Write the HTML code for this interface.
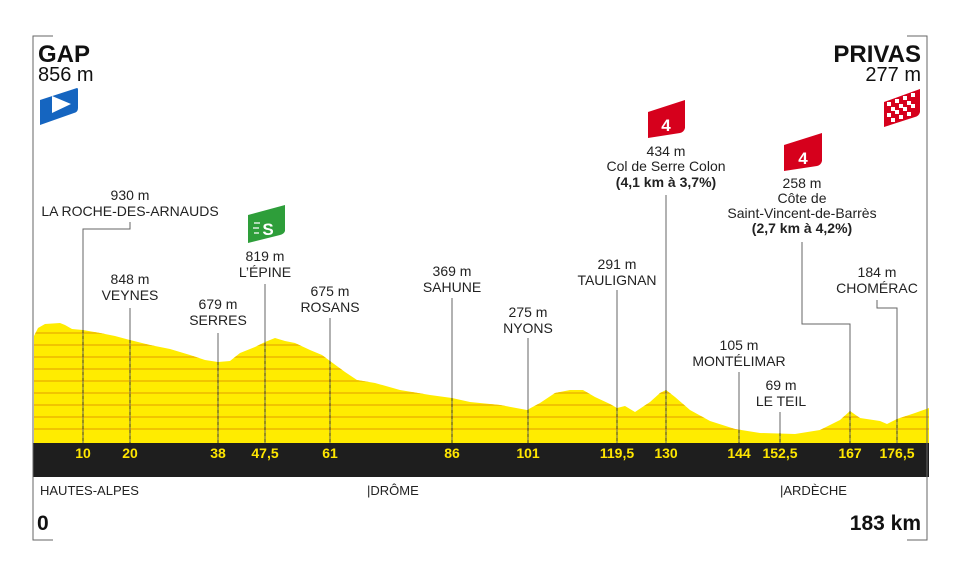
<!DOCTYPE html>
<html><head><meta charset="utf-8"><style>
html,body{margin:0;padding:0;background:#fff;}
svg{display:block;font-family:"Liberation Sans",sans-serif;}
.l{font-size:14px;fill:#222;text-anchor:middle;}
.b{font-weight:bold;}
.k{font-size:14px;font-weight:bold;fill:#ffe600;text-anchor:middle;}
.ln{stroke:#666;stroke-width:1;fill:none;}
.dl{stroke:#333;stroke-width:1;stroke-dasharray:3,3;}
</style></head><body>
<svg width="960" height="579" viewBox="0 0 960 579" xmlns="http://www.w3.org/2000/svg">
<defs><clipPath id="cp"><path id="prof" d="M34,336 L38,328 L45,324 L60,323 L65,325 L72,329 L83,330 L100,333 L115,336 L130,340 L150,345 L170,349 L190,355 L205,360 L218,362 L230,361 L240,353 L255,347 L265,342 L275,338 L285,341 L295,343 L310,350 L322,355 L330,361 L345,372 L357,380 L375,383 L400,390 L430,395 L452,398 L470,402 L500,405 L527,410 L540,403 L555,393 L570,390 L583,390 L595,397 L610,404 L617,408 L625,406 L635,412 L650,402 L660,393 L666,390 L675,397 L690,410 L710,421 L735,429 L760,433 L795,434 L820,430 L840,420 L850,411 L860,418 L880,421 L887,424 L897,419 L915,413 L929,408 L929,443 L34,443 Z"/></clipPath></defs>
<use href="#prof" fill="#ffec00"/>
<g clip-path="url(#cp)" stroke="#f1c400" stroke-width="2">
<line x1="34" y1="333" x2="929" y2="333"/><line x1="34" y1="345" x2="929" y2="345"/><line x1="34" y1="357" x2="929" y2="357"/><line x1="34" y1="369" x2="929" y2="369"/><line x1="34" y1="381" x2="929" y2="381"/><line x1="34" y1="393" x2="929" y2="393"/><line x1="34" y1="405" x2="929" y2="405"/><line x1="34" y1="417" x2="929" y2="417"/><line x1="34" y1="429" x2="929" y2="429"/>
</g>
<rect x="33" y="443" width="896" height="34" fill="#1e1e1e"/>
<path d="M53,36 H33 V540 H53" class="ln" stroke="#888"/>
<path d="M907,36 H927 V540 H907" class="ln" stroke="#888"/>
<text x="38" y="62" font-size="24" font-weight="bold" fill="#111">GAP</text>
<text x="38" y="81" font-size="20" fill="#111">856 m</text>
<path d="M40,100 L77,88 Q78,88 78,90 L78,108 Q78,112 74,113 L40,125 Z" fill="#1565c0"/>
<path d="M52,96 L71,104 L52,113 Z" fill="#fff"/>
<text x="921" y="62" font-size="24" font-weight="bold" fill="#111" text-anchor="end">PRIVAS</text>
<text x="921" y="81" font-size="20" fill="#111" text-anchor="end">277 m</text>
<path d="M884,102 L920,89 L920,112 Q919,116 915,117 L884,127 Z" fill="#d6001c"/>
<g fill="#fff"><rect x="887" y="102" width="4" height="4"/><rect x="895" y="99" width="4" height="4"/><rect x="903" y="96" width="4" height="4"/><rect x="911" y="93" width="4" height="4"/><rect x="891" y="107" width="4" height="4"/><rect x="899" y="104" width="4" height="4"/><rect x="907" y="101" width="4" height="4"/><rect x="887" y="113" width="4" height="4"/><rect x="895" y="110" width="4" height="4"/><rect x="903" y="107" width="4" height="4"/><rect x="911" y="104" width="4" height="4"/><rect x="891" y="118" width="4" height="4"/><rect x="899" y="115" width="4" height="4"/><rect x="907" y="112" width="4" height="4"/></g>
<path d="M248,215 L285,205 L285,231 Q284,234 280,235 L248,243 Z" fill="#2e9e3a"/>
<text x="268" y="235" font-size="17" font-weight="bold" fill="#fff" text-anchor="middle">S</text>
<path d="M254,223 h6 M253,228 h6 M254,233 h5" stroke="#fff" stroke-width="1.3"/>
<path d="M648,112 L685,100 L685,128 Q684,132 680,133 L648,138 Z" fill="#d6001c"/>
<text x="666" y="131" font-size="17" font-weight="bold" fill="#fff" text-anchor="middle">4</text>
<path d="M784,145 L822,133 L822,161 Q821,165 817,166 L784,171 Z" fill="#d6001c"/>
<text x="803" y="164" font-size="17" font-weight="bold" fill="#fff" text-anchor="middle">4</text>
<path d="M130,222 V229 H83 V443" class="ln"/>
<line x1="130" y1="308" x2="130" y2="443" class="ln"/>
<line x1="218" y1="333" x2="218" y2="443" class="ln"/>
<line x1="265" y1="284" x2="265" y2="443" class="ln"/>
<line x1="330" y1="318" x2="330" y2="443" class="ln"/>
<line x1="452" y1="298" x2="452" y2="443" class="ln"/>
<line x1="528" y1="338" x2="528" y2="443" class="ln"/>
<line x1="617" y1="290" x2="617" y2="443" class="ln"/>
<line x1="666" y1="195" x2="666" y2="443" class="ln"/>
<line x1="739" y1="372" x2="739" y2="443" class="ln"/>
<line x1="780" y1="412" x2="780" y2="443" class="ln"/>
<path d="M802,242 V324 H850 V443" class="ln"/>
<path d="M877,300 V308 H897 V443" class="ln"/>
<g class="dl"><line x1="83" y1="330" x2="83" y2="443"/><line x1="130" y1="340" x2="130" y2="443"/><line x1="218" y1="362" x2="218" y2="443"/><line x1="265" y1="343" x2="265" y2="443"/><line x1="330" y1="361" x2="330" y2="443"/><line x1="452" y1="398" x2="452" y2="443"/><line x1="528" y1="410" x2="528" y2="443"/><line x1="617" y1="408" x2="617" y2="443"/><line x1="666" y1="390" x2="666" y2="443"/><line x1="739" y1="430" x2="739" y2="443"/><line x1="780" y1="433" x2="780" y2="443"/><line x1="850" y1="411" x2="850" y2="443"/><line x1="897" y1="419" x2="897" y2="443"/></g>
<text class="l" x="130" y="200">930 m</text><text class="l" x="130" y="216">LA ROCHE-DES-ARNAUDS</text>
<text class="l" x="130" y="284">848 m</text><text class="l" x="130" y="300">VEYNES</text>
<text class="l" x="218" y="309">679 m</text><text class="l" x="218" y="325">SERRES</text>
<text class="l" x="265" y="261">819 m</text><text class="l" x="265" y="277">L’ÉPINE</text>
<text class="l" x="330" y="296">675 m</text><text class="l" x="330" y="312">ROSANS</text>
<text class="l" x="452" y="276">369 m</text><text class="l" x="452" y="292">SAHUNE</text>
<text class="l" x="528" y="317">275 m</text><text class="l" x="528" y="333">NYONS</text>
<text class="l" x="617" y="269">291 m</text><text class="l" x="617" y="285">TAULIGNAN</text>
<text class="l" x="666" y="156">434 m</text><text class="l" x="666" y="171">Col de Serre Colon</text><text class="l b" x="666" y="187">(4,1 km à 3,7%)</text>
<text class="l" x="739" y="350">105 m</text><text class="l" x="739" y="366">MONTÉLIMAR</text>
<text class="l" x="781" y="390">69 m</text><text class="l" x="781" y="406">LE TEIL</text>
<text class="l" x="802" y="188">258 m</text><text class="l" x="802" y="203">Côte de</text><text class="l" x="802" y="218">Saint-Vincent-de-Barrès</text><text class="l b" x="802" y="233">(2,7 km à 4,2%)</text>
<text class="l" x="877" y="277">184 m</text><text class="l" x="877" y="293">CHOMÉRAC</text>
<text class="k" x="83" y="458">10</text><text class="k" x="130" y="458">20</text><text class="k" x="218" y="458">38</text><text class="k" x="265" y="458">47,5</text><text class="k" x="330" y="458">61</text><text class="k" x="452" y="458">86</text><text class="k" x="528" y="458">101</text><text class="k" x="617" y="458">119,5</text><text class="k" x="666" y="458">130</text><text class="k" x="739" y="458">144</text><text class="k" x="780" y="458">152,5</text><text class="k" x="850" y="458">167</text><text class="k" x="897" y="458">176,5</text>
<text x="40" y="495" font-size="13" fill="#222">HAUTES-ALPES</text>
<text x="367" y="495" font-size="13" fill="#222">|DRÔME</text>
<text x="780" y="495" font-size="13" fill="#222">|ARDÈCHE</text>
<text x="37" y="530" font-size="21" font-weight="bold" fill="#111">0</text>
<text x="921" y="530" font-size="21" font-weight="bold" fill="#111" text-anchor="end">183 km</text>
</svg>
</body></html>
